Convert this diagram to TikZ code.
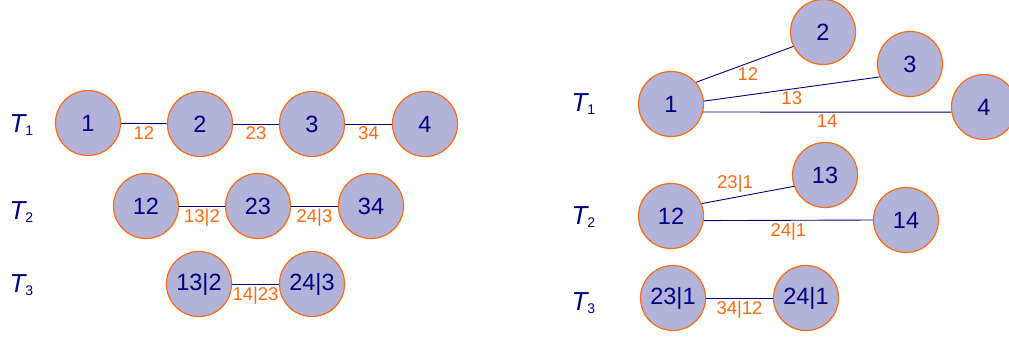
\documentclass[tikz,border=0pt]{standalone}
\usepackage{fontspec}
\setmainfont{Liberation Sans}
\usetikzlibrary{positioning}
\definecolor{vfill}{HTML}{B3B3D9}
\definecolor{vline}{HTML}{FF6A10}
\definecolor{ink}{HTML}{000080}
\definecolor{elbl}{HTML}{FF6A10}
\newcommand{\treelbl}[1]{{\itshape T}\raisebox{-3pt}{\fontsize{14}{14}\selectfont #1}}

\begin{document}
\begin{tikzpicture}[
    x=1pt, y=-1pt,
    every node/.style={text=ink},
    vtx/.style={circle, draw=vline, fill=vfill, line width=1.2pt, minimum size=65pt,
                inner sep=0pt, font=\fontsize{23.5}{26}\selectfont},
    tree/.style={anchor=west, font=\fontsize{26}{28}\selectfont},
    edg/.style={draw=ink, line width=0.9pt},
    lbl/.style={text=elbl, inner sep=2.5pt, font=\fontsize{18.5}{20}\selectfont},
  ]
  \clip (0,0) rectangle (1009,338);

  % left: the path tree
  \node[tree] (lt1) at (6,125) {\treelbl{1}};
  \node[tree] (lt2) at (6,212) {\treelbl{2}};
  \node[tree] (lt3) at (6,285) {\treelbl{3}};

  \node[vtx] (a1) at (88,123)  {1};
  \node[vtx] (a2) at (200,124) {2};
  \node[vtx] (a3) at (312,124) {3};
  \node[vtx] (a4) at (425,124) {4};
  \draw[edg] (a1) -- node[lbl, below] {12} (a2);
  \draw[edg] (a2) -- node[lbl, below] {23} (a3);
  \draw[edg] (a3) -- node[lbl, below] {34} (a4);

  \node[vtx] (b12) at (146,206) {12};
  \node[vtx] (b23) at (258,206) {23};
  \node[vtx] (b34) at (371,206) {34};
  \draw[edg] (b12) -- node[lbl, below] {13|2} (b23);
  \draw[edg] (b23) -- node[lbl, below] {24|3} (b34);

  \node[vtx] (c132) at (199,284) {13|2};
  \node[vtx] (c243) at (312,284) {24|3};
  \draw[edg] (c132) -- node[lbl, below] {14|23} (c243);

  % right: the star tree
  \node[tree] (rt1) at (568,104) {\treelbl{1}};
  \node[tree] (rt2) at (568,217) {\treelbl{2}};
  \node[tree] (rt3) at (568,303) {\treelbl{3}};

  \node[vtx] (d1) at (671,104) {1};
  \node[vtx] (d2) at (823,32)  {2};
  \node[vtx] (d3) at (910,64)  {3};
  \node[vtx] (d4) at (984,107) {4};
  \draw[edg] (d1.41) -- node[lbl, below right=0pt and -10pt] {12} (d2.206);
  \draw[edg] (d1.5)  -- node[lbl, below] {13} (d3.203);
  \draw[edg] (d1.-14) -- node[lbl, below] {14} (d4.189);

  \node[vtx] (e12) at (671,216) {12};
  \node[vtx] (e13) at (825,175) {13};
  \node[vtx] (e14) at (906,220) {14};
  \draw[edg] (e12.22) -- node[lbl, above left=0pt and -8pt] {23|1} (e13.200);
  \draw[edg] (e12.-8) -- node[lbl, below] {24|1} (e14.180);

  \node[vtx] (f231) at (673,298) {23|1};
  \node[vtx] (f241) at (806,298) {24|1};
  \draw[edg] (f231) -- node[lbl, below] {34|12} (f241);
\end{tikzpicture}
\end{document}
